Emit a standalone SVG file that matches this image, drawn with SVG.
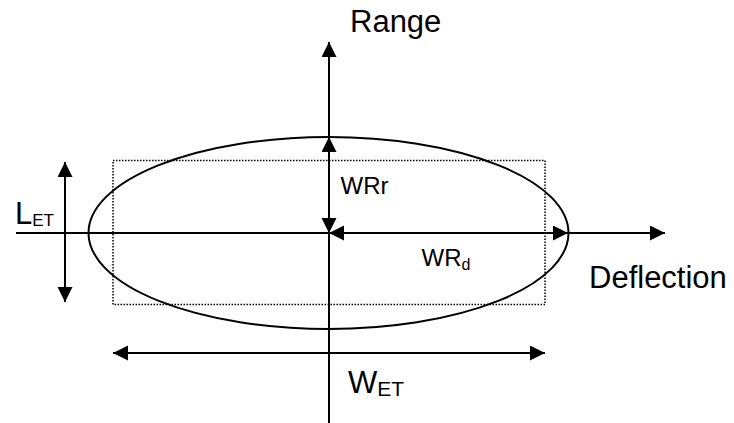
<svg xmlns="http://www.w3.org/2000/svg" width="734" height="423" viewBox="0 0 734 423">
  <style>
    .ln { stroke: #000; stroke-width: 2; fill: none; }
    .dot { stroke: #000; stroke-width: 1.5; fill: none; stroke-dasharray: 1.5 1.5; }
    .t { font-family: "Liberation Sans", Arial, sans-serif; fill: #000; }
  </style>
  <defs>
    <marker id="ah" markerUnits="userSpaceOnUse" markerWidth="16" markerHeight="16" viewBox="0 0 16 16" refX="15" refY="7.5" orient="auto-start-reverse">
      <path d="M0,0 L15,7.5 L0,15 Z" fill="#000"/>
    </marker>
  </defs>
  <rect width="734" height="423" fill="#fff"/>

  <g id="box">
    <rect class="dot" x="113" y="160.5" width="432" height="144"/>
  </g>
  <g id="ellipse">
    <ellipse class="ln" cx="328.5" cy="233" rx="240" ry="96"/>
  </g>

  <g id="connectors">
    <line id="x-axis" class="ln" x1="16" y1="233" x2="665" y2="233" marker-end="url(#ah)"/>
    <line id="y-axis" class="ln" x1="329" y1="423" x2="329" y2="42" marker-end="url(#ah)"/>
    <line id="wrr" class="ln" x1="329" y1="137" x2="329" y2="233" marker-start="url(#ah)" marker-end="url(#ah)"/>
    <line id="wrd" class="ln" x1="329" y1="233" x2="568" y2="233" marker-start="url(#ah)" marker-end="url(#ah)"/>
    <line id="let" class="ln" x1="65" y1="162" x2="65" y2="302" marker-start="url(#ah)" marker-end="url(#ah)"/>
    <line id="wet" class="ln" x1="113" y1="353" x2="545" y2="353" marker-start="url(#ah)" marker-end="url(#ah)"/>
  </g>

  <g id="labels">
    <text class="t" x="350" y="31.5" font-size="31">Range</text>
    <text class="t" x="589" y="288" font-size="31">Deflection</text>
    <text class="t" x="340.5" y="193.5" font-size="24">WRr</text>
    <text class="t" x="421.5" y="265.5" font-size="24">WR<tspan font-size="16" dy="4">d</tspan></text>
    <text class="t" x="15" y="224" font-size="31">L<tspan font-size="17" dy="2">ET</tspan></text>
    <text class="t" x="348" y="392.5" font-size="31">W<tspan font-size="21" dy="3">ET</tspan></text>
  </g>
</svg>
